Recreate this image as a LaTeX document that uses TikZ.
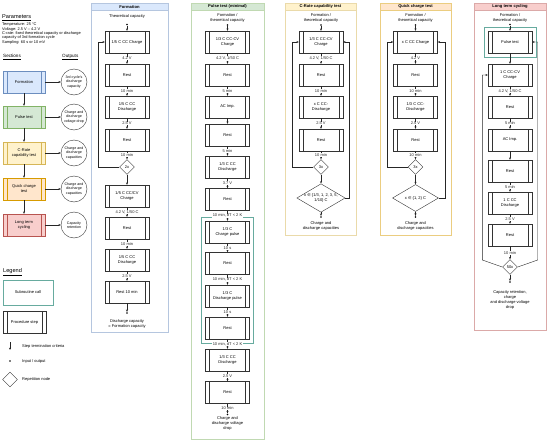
\documentclass[tikz,border=0pt]{standalone}
\usepackage{fontspec}
\setmainfont{Liberation Sans}
\newfontfamily\symfont{DejaVu Sans}
\usetikzlibrary{arrows.meta,positioning,fit,backgrounds,shapes.geometric}
\definecolor{frmfill}{HTML}{DAE8FC}
\definecolor{frmline}{HTML}{6C8EBF}
\definecolor{plsfill}{HTML}{D5E8D4}
\definecolor{plsline}{HTML}{82B366}
\definecolor{crtfill}{HTML}{FFF2CC}
\definecolor{crtline}{HTML}{D6B656}
\definecolor{qckfill}{HTML}{FFE6CC}
\definecolor{qckline}{HTML}{D79B00}
\definecolor{ltcfill}{HTML}{F8CECC}
\definecolor{ltcline}{HTML}{B85450}
\definecolor{subteal}{HTML}{67AB9F}
\newcommand{\smalltxt}{\fontsize{4}{5}\selectfont}
\newcommand{\circtxt}{\fontsize{3.6}{4.3}\selectfont}
\newcommand{\headtxt}{\fontsize{4.1}{5}\selectfont\bfseries}
\newcommand{\bigtxt}{\fontsize{5.6}{6.5}\selectfont}
\newcommand{\midtxt}{\fontsize{4.6}{5.5}\selectfont}
\newcommand{\partxt}{\fontsize{3.9}{4.4}\selectfont}
\tikzset{
  procinner/.style={draw=black!80,line width=0.4pt},
  procnode/.style={rectangle,draw=black!80,fill=white,line width=0.4pt,minimum width=44pt,minimum height=22pt,inner sep=0.5pt,align=center,
    path picture={\draw[procinner] ([xshift=4pt]path picture bounding box.north west) -- ([xshift=4pt]path picture bounding box.south west)
      ([xshift=-4pt]path picture bounding box.north east) -- ([xshift=-4pt]path picture bounding box.south east);}},
  secnode/.style={procnode,fill=#1fill,draw=#1line,minimum width=42pt,procinner/.style={draw=#1line,line width=0.4pt}},
  subcall/.style={rectangle,draw=subteal,line width=0.7pt,inner sep=3.8pt},
  repnode/.style={diamond,draw=black!80,fill=white,line width=0.4pt,minimum width=15pt,minimum height=15pt,inner sep=0},
  choicenode/.style={repnode,aspect=1.7,minimum width=46pt,minimum height=27pt,align=center},
  iodot/.style={circle,fill=black,inner sep=0,minimum size=1.8pt},
  steparrow/.style={-{Stealth[length=2.4pt,width=2pt]},line width=0.4pt,black!85},
  critlabel/.style={fill=white,inner sep=0.4pt},
  plaintext/.style={align=center,inner sep=0},
  outcircle/.style={circle,draw=black!80,line width=0.4pt,minimum size=26pt,inner sep=0,align=center,font=\circtxt},
  panelbody/.style={rectangle,draw=#1line!50,line width=0.5pt,inner sep=0,anchor=north},
  panelhead/.style={rectangle,draw=#1line!50,fill=#1fill,line width=0.5pt,minimum height=7pt,inner sep=0,anchor=north,font=\headtxt},
}
\begin{document}
\begin{tikzpicture}[x=1pt,y=-1pt,font=\smalltxt]
  \useasboundingbox (0,0) rectangle (550,442);
  \node[anchor=west,inner sep=0,font=\bigtxt] (params) at (2,18) {\underline{Parameters}};
  \node[anchor=north west,align=left,inner sep=0,font=\partxt] (paramList) at (2,22.8) {Temperature: 25 °C\\Voltage: 2.5 V – 4.2 V\\C-rate: fixed theoretical capacity or discharge\\capacity of 3rd formation cycle\\Sampling: 60 s or 10 mV};
  \node[anchor=west,inner sep=0,font=\midtxt] (secHead) at (3,57) {\underline{Sections}};
  \node[anchor=west,inner sep=0,font=\midtxt] (outHead) at (62,57) {\underline{Outputs}};
  \node[secnode=frm] (sForm) at (24,82) {Formation};
  \node[secnode=pls] (sPuls) at (24,117) {Pulse test};
  \node[secnode=crt] (sCrat) at (24,153) {C-Rate\\capability test};
  \node[secnode=qck] (sQuck) at (24,189) {Quick charge\\test};
  \node[secnode=ltc] (sLong) at (24,225) {Long term\\cycling};
  \node[outcircle] (oForm) at (74,82) {3rd cycle's\\discharge\\capacity};
  \node[outcircle] (oPuls) at (74,117) {Charge and\\discharge\\voltage drop};
  \node[outcircle] (oCrat) at (74,153) {Charge and\\discharge\\capacities};
  \node[outcircle] (oQuck) at (74,189) {Charge and\\discharge\\capacities};
  \node[outcircle] (oLong) at (74,225) {Capacity\\retention};
  \draw[steparrow] (sForm) -- (sPuls);
  \draw[steparrow] (sPuls) -- (sCrat);
  \draw[steparrow] (sCrat) -- (sQuck);
  \draw[steparrow] (sQuck) -- (sLong);
  \draw[steparrow] (sForm) -- (oForm);
  \draw[steparrow] (sPuls) -- (oPuls);
  \draw[steparrow] (sCrat) -- (oCrat);
  \draw[steparrow] (sQuck) -- (oQuck);
  \draw[steparrow] (sLong) -- (oLong);

  \node[anchor=west,inner sep=0,font=\bigtxt] (legHead) at (3,272) {\underline{Legend}};
  \node[subcall,minimum width=50pt,minimum height=25pt] (legSub) at (28,292.5) {Subroutine call};
  \node[procnode,minimum width=43pt] (legProc) at (24.5,322.5) {Procedure step};
  \coordinate (legArrA) at (10,342);
  \coordinate (legArrB) at (10,350);
  \draw[steparrow] (legArrA) -- (legArrB);
  \node[anchor=west,inner sep=0] (legStep) at (22,346) {Step termination criteria};
  \node[iodot] (legDot) at (10,361) {};
  \node[anchor=west,inner sep=0] (legIO) at (22,361) {Input / output};
  \node[repnode] (legRep) at (10,379.5) {};
  \node[anchor=west,inner sep=0] (legRepTxt) at (22,379.5) {Repetition node};

  \node[panelbody=frm,minimum width=77pt,minimum height=329pt] (fPanel) at (129.5,3) {};
  \node[panelhead=frm,minimum width=77pt] (fHead) at (129.5,3) {Formation};
  \node[plaintext] (fInTxt) at (127,16) {Theoretical capacity};
  \node[iodot] (fIn) at (127,24.5) {};
  \node[procnode] (f1) at (127,42) {1/5 C CC Charge};
  \node[procnode] (f2) at (127,75) {Rest};
  \node[procnode] (f3) at (127,107) {1/5 C CC\\Discharge};
  \node[procnode] (f4) at (127,140) {Rest};
  \node[repnode] (fRep) at (127,167) {2x};
  \node[procnode] (f5) at (127,196) {1/5 C CC/CV\\Charge};
  \node[procnode] (f6) at (127,228) {Rest};
  \node[procnode] (f7) at (127,260) {1/5 C CC\\Discharge};
  \node[procnode] (f8) at (127,292) {Rest 10 min};
  \node[iodot] (fOut) at (127,313) {};
  \node[plaintext] (fOutTxt) at (127,323.5) {Discharge capacity\\= Formation capacity};
  \draw[steparrow] (fIn) -- (f1);
  \draw[steparrow] (f1) -- node[critlabel] {4.2 V} (f2);
  \draw[steparrow] (f2) -- node[critlabel] {10 min} (f3);
  \draw[steparrow] (f3) -- node[critlabel] {2.5 V} (f4);
  \draw[steparrow] (f4) -- node[critlabel] {10 min} (fRep);
  \draw[steparrow] (fRep.west) -| ([xshift=-7pt]f1.west) -- (f1.west);
  \draw[steparrow] (fRep) -- (f5);
  \draw[steparrow] (f5) -- node[critlabel] {4.2 V, 1/50 C} (f6);
  \draw[steparrow] (f6) -- node[critlabel] {10 min} (f7);
  \draw[steparrow] (f7) -- node[critlabel] {2.5 V} (f8);
  \draw[steparrow] (f8) -- (fOut);

  \node[panelbody=pls,minimum width=73pt,minimum height=436pt] (pPanel) at (227.5,3) {};
  \node[panelhead=pls,minimum width=73pt] (pHead) at (227.5,3) {Pulse test (minimal)};
  \node[plaintext] (pInTxt) at (227.5,17.5) {Formation /\\theoretical capacity};
  \node[iodot] (pIn) at (227.5,25) {};
  \node[procnode] (p1) at (227.5,42) {1/3 C CC-CV\\Charge};
  \node[procnode] (p2) at (227.5,75) {Rest};
  \node[procnode] (p3) at (227.5,107) {AC Imp.};
  \node[procnode] (p4) at (227.5,135) {Rest};
  \node[procnode] (p5) at (227.5,167) {1/3 C CC\\Discharge};
  \node[procnode] (p6) at (227.5,199.5) {Rest};
  \node[procnode] (p7) at (227.5,232) {1/3 C\\Charge pulse};
  \node[procnode] (p8) at (227.5,263.5) {Rest};
  \node[procnode] (p9) at (227.5,296) {1/3 C\\Discharge pulse};
  \node[procnode] (p10) at (227.5,328) {Rest};
  \node[procnode] (p11) at (227.5,360) {1/3 C CC\\Discharge};
  \node[procnode] (p12) at (227.5,392.5) {Rest};
  \node[iodot] (pOut) at (227.5,414.5) {};
  \node[plaintext] (pOutTxt) at (227.5,423) {Charge and\\discharge voltage\\drop};
  \begin{scope}[on background layer]
    \node[subcall,fit=(p7)(p10)] (pSub) {};
  \end{scope}
  \draw[steparrow] (pIn) -- (p1);
  \draw[steparrow] (p1) -- node[critlabel] {4.2 V, 1/50 C} (p2);
  \draw[steparrow] (p2) -- node[critlabel] {5 min} (p3);
  \draw[steparrow] (p3) -- (p4);
  \draw[steparrow] (p4) -- node[critlabel] {5 min} (p5);
  \draw[steparrow] (p5) -- node[critlabel] {3.7 V} (p6);
  \draw[steparrow] (p6) -- node[critlabel] {10 min, dT < 2 K} (p7);
  \draw[steparrow] (p7) -- node[critlabel] {10 s} (p8);
  \draw[steparrow] (p8) -- node[critlabel] {10 min, dT < 2 K} (p9);
  \draw[steparrow] (p9) -- node[critlabel] {10 s} (p10);
  \draw[steparrow] (p10) -- node[critlabel] {10 min, dT < 2 K} (p11);
  \draw[steparrow] (p11) -- node[critlabel] {2.5 V} (p12);
  \draw[steparrow] (p12) -- node[critlabel] {10 min} (pOut);

  \node[panelbody=crt,minimum width=71pt,minimum height=232pt] (cPanel) at (320.5,3) {};
  \node[panelhead=crt,minimum width=71pt] (cHead) at (320.5,3) {C-Rate capability test};
  \node[plaintext] (cInTxt) at (321,17.5) {Formation /\\theoretical capacity};
  \node[iodot] (cIn) at (321,25) {};
  \node[procnode] (c1) at (321,42) {1/3 C CC-CV\\Charge};
  \node[procnode] (c2) at (321,75) {Rest};
  \node[procnode] (c3) at (321,107) {x C CC-\\Discharge};
  \node[procnode] (c4) at (321,140) {Rest};
  \node[repnode] (cRep) at (321,167) {3x};
  \node[choicenode] (cX) at (321,198) {x {\symfont ∈} \{1/3, 1, 2, 3, 5,\\1/10\} C};
  \node[iodot] (cOut) at (321,217) {};
  \node[plaintext] (cOutTxt) at (321,225.5) {Charge and\\discharge capacities};
  \draw[steparrow] (cIn) -- (c1);
  \draw[steparrow] (c1) -- node[critlabel] {4.2 V, 1/50 C} (c2);
  \draw[steparrow] (c2) -- node[critlabel] {10 min} (c3);
  \draw[steparrow] (c3) -- node[critlabel] {2.5 V} (c4);
  \draw[steparrow] (c4) -- node[critlabel] {10 min} (cRep);
  \draw[steparrow] (cRep.west) -| ([xshift=-7pt]c1.west) -- (c1.west);
  \draw[steparrow] (cRep) -- (cX);
  \draw[steparrow] (cX.east) -| ([xshift=6pt]c1.east) -- (c1.east);
  \draw[steparrow] (cX) -- (cOut);

  \node[panelbody=qck,minimum width=71pt,minimum height=232pt] (qPanel) at (415.5,3) {};
  \node[panelhead=qck,minimum width=71pt] (qHead) at (415.5,3) {Quick charge test};
  \node[plaintext] (qInTxt) at (415.5,17.5) {Formation /\\theoretical capacity};
  \node[iodot] (qIn) at (415.5,25) {};
  \node[procnode] (q1) at (415.5,42) {x C CC Charge};
  \node[procnode] (q2) at (415.5,75) {Rest};
  \node[procnode] (q3) at (415.5,107) {1/3 C CC-\\Discharge};
  \node[procnode] (q4) at (415.5,140) {Rest};
  \node[repnode] (qRep) at (415.5,167) {3x};
  \node[choicenode] (qX) at (415.5,198) {x {\symfont ∈} \{1, 2\} C};
  \node[iodot] (qOut) at (415.5,217) {};
  \node[plaintext] (qOutTxt) at (415.5,225.5) {Charge and\\discharge capacities};
  \draw[steparrow] (qIn) -- (q1);
  \draw[steparrow] (q1) -- node[critlabel] {4.2 V} (q2);
  \draw[steparrow] (q2) -- node[critlabel] {10 min} (q3);
  \draw[steparrow] (q3) -- node[critlabel] {2.5 V} (q4);
  \draw[steparrow] (q4) -- node[critlabel] {10 min} (qRep);
  \draw[steparrow] (qRep.west) -| ([xshift=-6.5pt]q1.west) -- (q1.west);
  \draw[steparrow] (qRep) -- (qX);
  \draw[steparrow] (qX.east) -| ([xshift=7.5pt]q1.east) -- (q1.east);
  \draw[steparrow] (qX) -- (qOut);

  \node[panelbody=ltc,minimum width=72pt,minimum height=327pt] (lPanel) at (510,3) {};
  \node[panelhead=ltc,minimum width=72pt] (lHead) at (510,3) {Long term cycling};
  \node[plaintext] (lInTxt) at (510,17.5) {Formation /\\theoretical capacity};
  \node[iodot] (lIn) at (510,24.5) {};
  \node[procnode] (l1) at (510,42) {Pulse test};
  \node[procnode] (l2) at (510,75) {1 C CC-CV\\Charge};
  \node[procnode] (l3) at (510,107) {Rest};
  \node[procnode] (l4) at (510,140) {AC Imp.};
  \node[procnode] (l5) at (510,171) {Rest};
  \node[procnode] (l6) at (510,203) {1 C CC\\Discharge};
  \node[procnode] (l7) at (510,235) {Rest};
  \node[repnode] (lRep) at (510,267) {50x};
  \node[iodot] (lOut) at (510,282) {};
  \node[plaintext] (lOutTxt) at (510,299.5) {Capacity retention,\\charge\\and discharge voltage\\drop};
  \begin{scope}[on background layer]
    \node[subcall,fit=(l1)] (lSub) {};
  \end{scope}
  \draw[steparrow] (lIn) -- (l1);
  \draw[steparrow] (l1) -- (l2);
  \draw[steparrow] (l2) -- node[critlabel] {4.2 V, 1/50 C} (l3);
  \draw[steparrow] (l3) -- node[critlabel] {5 min} (l4);
  \draw[steparrow] (l4) -- (l5);
  \draw[steparrow] (l5) -- node[critlabel] {5 min} (l6);
  \draw[steparrow] (l6) -- node[critlabel] {2.5 V} (l7);
  \draw[steparrow] (l7) -- node[critlabel] {10 min} (lRep);
  \draw[steparrow] (lRep.west) -- ++(-20,-7) |- (l2.west);
  \draw[steparrow] (lRep.east) -- ++(20,-7) |- (l1.east);
  \draw[steparrow] (lRep) -- (lOut);
\end{tikzpicture}
\end{document}
